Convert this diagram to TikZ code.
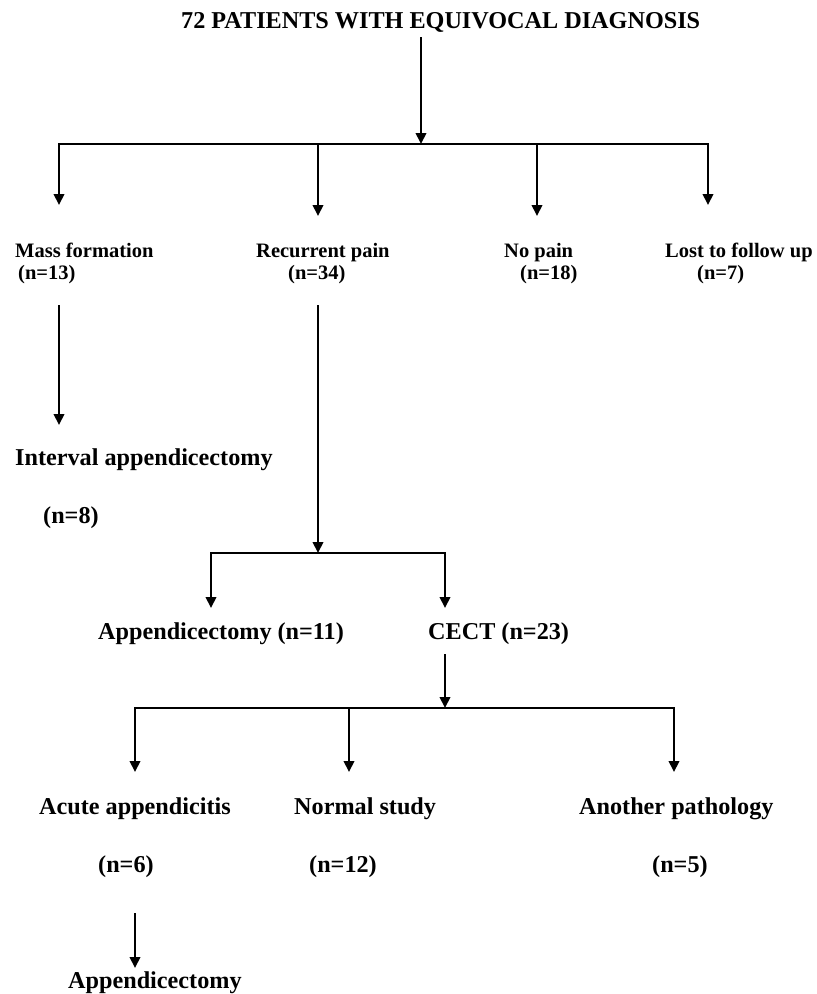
\documentclass[tikz,border=0pt]{standalone}
\usepackage{fontspec}
\setmainfont{Liberation Serif}
\usetikzlibrary{arrows.meta}
\begin{document}
\begin{tikzpicture}[x=1pt,y=-1pt,
  lbl/.style={anchor=base west, inner sep=0pt, font=\bfseries\fontsize{24.2}{28}\selectfont},
  slbl/.style={anchor=base west, inner sep=0pt, font=\bfseries\fontsize{20.5}{24}\selectfont},
  ln/.style={line width=2pt},
  arr/.style={ln, -{Triangle[length=11pt,width=10.5pt]}}]
\useasboundingbox[fill=white] (0,0) rectangle (817,994);
% texts
\node[lbl] (title) at (181,28) {72 PATIENTS WITH EQUIVOCAL DIAGNOSIS};
\node[slbl] (mass) at (15,257) {Mass formation};
\node[slbl] (massn) at (18,279) {(n=13)};
\node[slbl] (rec) at (256,257) {Recurrent pain};
\node[slbl] (recn) at (288,279) {(n=34)};
\node[slbl] (nop) at (504,257) {No pain};
\node[slbl] (nopn) at (520,279) {(n=18)};
\node[slbl] (lost) at (665,257) {Lost to follow up};
\node[slbl] (lostn) at (697,279) {(n=7)};
\node[lbl] (ia) at (15,465) {Interval appendicectomy};
\node[lbl] (ian) at (43,523) {(n=8)};
\node[lbl] (app) at (98,639) {Appendicectomy (n=11)};
\node[lbl] (cect) at (428,639) {CECT (n=23)};
\node[lbl] (acute) at (39,814) {Acute appendicitis};
\node[lbl] (norm) at (294,814) {Normal study};
\node[lbl] (anot) at (579,814) {Another pathology};
\node[lbl] (acuten) at (98,872) {(n=6)};
\node[lbl] (normn) at (309,872) {(n=12)};
\node[lbl] (anotn) at (652,872) {(n=5)};
\node[lbl] (app2) at (68,988) {Appendicectomy};
% connector points
\coordinate (t0) at (421,37);
\coordinate (j1) at (421,144);
\coordinate (e1) at (59,205);
\coordinate (e2) at (318,216);
\coordinate (e3) at (537,216);
\coordinate (e4) at (708,205);
\coordinate (m0) at (59,305);
\coordinate (m1) at (59,425);
\coordinate (r0) at (318,305);
\coordinate (j2) at (318,553);
\coordinate (e5) at (211,608);
\coordinate (e6) at (445,608);
\coordinate (c0) at (445,654);
\coordinate (j3) at (445,708);
\coordinate (e7) at (135,772);
\coordinate (e8) at (349,772);
\coordinate (e9) at (674,772);
\coordinate (a0) at (135,913);
\coordinate (a1) at (135,968);
% connectors
\draw[arr] (t0) -- (j1);
\draw[arr] (j1) -| (e1);
\draw[arr] (j1) -| (e2);
\draw[arr] (j1) -| (e3);
\draw[arr] (j1) -| (e4);
\draw[arr] (m0) -- (m1);
\draw[arr] (r0) -- (j2);
\draw[arr] (j2) -| (e5);
\draw[arr] (j2) -| (e6);
\draw[arr] (c0) -- (j3);
\draw[arr] (j3) -| (e7);
\draw[arr] (j3) -| (e8);
\draw[arr] (j3) -| (e9);
\draw[arr] (a0) -- (a1);
\end{tikzpicture}
\end{document}
